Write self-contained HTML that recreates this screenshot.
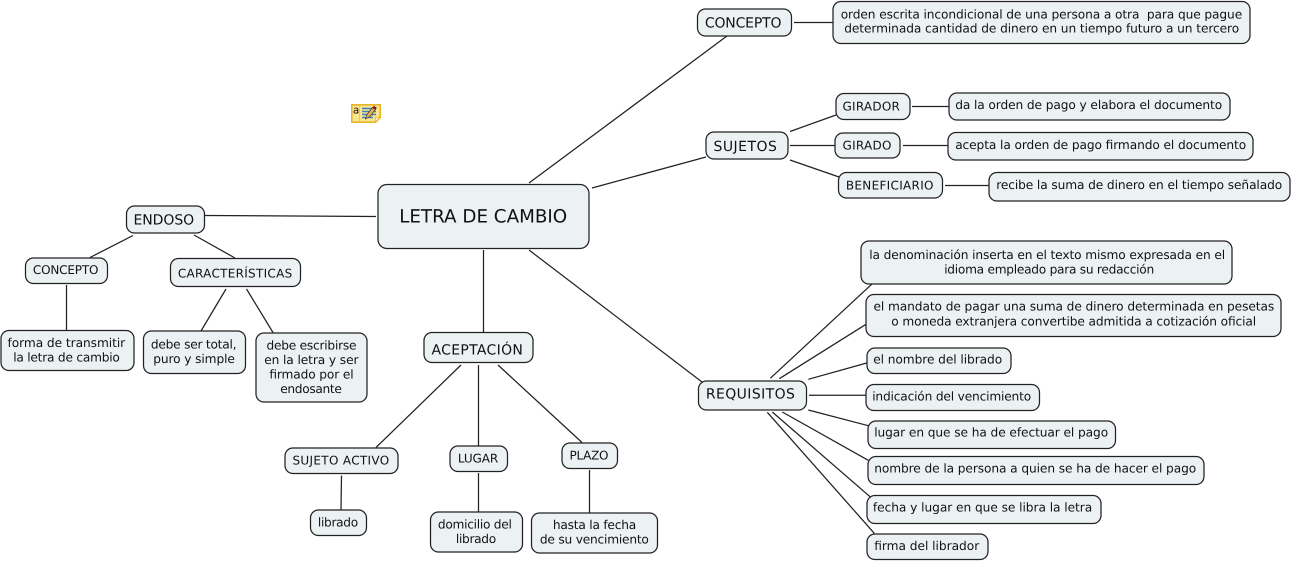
<!DOCTYPE html>
<html><head><meta charset="utf-8"><style>
html,body{margin:0;padding:0;background:#fff;width:1292px;height:561px;overflow:hidden}
svg{display:block}
rect.b{fill:#ecf2f4;stroke:#222;stroke-width:1.25}
line{stroke:#222;stroke-width:1.25}
text{font-family:"DejaVu Sans","Liberation Sans",sans-serif;fill:#111;font-size:12.2px;text-rendering:geometricPrecision}
text.m{font-size:14px}
text.s{font-size:12px}
text.c{font-size:18.3px}
</style></head><body>
<svg width="1292" height="561" viewBox="0 0 1292 561" xmlns="http://www.w3.org/2000/svg">
<!-- connectors -->
<line x1="529" y1="183" x2="727" y2="36"/>
<line x1="592" y1="188" x2="706" y2="157"/>
<line x1="205" y1="215.5" x2="376" y2="216.5"/>
<line x1="483.5" y1="250" x2="483.5" y2="332"/>
<line x1="529" y1="250" x2="702" y2="382"/>
<line x1="794" y1="22.5" x2="833" y2="22.5"/>
<line x1="790" y1="131.5" x2="836" y2="115"/>
<line x1="790" y1="145.5" x2="835" y2="145.5"/>
<line x1="790" y1="160" x2="839" y2="177"/>
<line x1="912" y1="106.5" x2="949" y2="106.5"/>
<line x1="903" y1="145.5" x2="948" y2="145.5"/>
<line x1="945" y1="185.5" x2="989" y2="185.5"/>
<line x1="133" y1="235.5" x2="90" y2="257.5"/>
<line x1="194" y1="235" x2="235" y2="258"/>
<line x1="66.5" y1="285" x2="66.5" y2="330"/>
<line x1="226" y1="289" x2="201" y2="331"/>
<line x1="246.5" y1="289" x2="273" y2="332.5"/>
<line x1="461" y1="365" x2="376" y2="447.5"/>
<line x1="478.5" y1="365" x2="478.5" y2="446"/>
<line x1="498" y1="365" x2="582" y2="442.5"/>
<line x1="341.5" y1="475.5" x2="341" y2="509.5"/>
<line x1="478.5" y1="473" x2="478.5" y2="511.5"/>
<line x1="589.5" y1="470" x2="589.5" y2="512.5"/>
<line x1="770.3" y1="378.3" x2="872.3" y2="283.7"/>
<line x1="779.3" y1="378.7" x2="866" y2="324.3"/>
<line x1="808.3" y1="379.3" x2="866.7" y2="363"/>
<line x1="809" y1="395.3" x2="865.7" y2="395.3"/>
<line x1="808.3" y1="410" x2="868.3" y2="425.7"/>
<line x1="782.3" y1="412" x2="868.3" y2="460.3"/>
<line x1="772.3" y1="412" x2="870" y2="496.7"/>
<line x1="767.3" y1="412.3" x2="874.3" y2="533.3"/>
<!-- boxes -->
<rect class="b" x="378" y="184.5" width="211" height="64" rx="9"/>
<rect class="b" x="424" y="332.5" width="109" height="30" rx="8"/>
<rect class="b" x="697.5" y="9" width="94" height="27" rx="8"/>
<rect class="b" x="833" y="1.5" width="417" height="42" rx="8"/>
<rect class="b" x="706" y="132" width="82" height="27" rx="8"/>
<rect class="b" x="836" y="93.5" width="74" height="26" rx="8"/>
<rect class="b" x="835" y="133" width="65" height="25" rx="8"/>
<rect class="b" x="838.5" y="172.5" width="104" height="25.5" rx="8"/>
<rect class="b" x="949" y="93" width="281" height="27" rx="8"/>
<rect class="b" x="948" y="132.5" width="305" height="27.5" rx="8"/>
<rect class="b" x="989" y="172.5" width="301" height="28.5" rx="8"/>
<rect class="b" x="126.5" y="206" width="78" height="27" rx="8"/>
<rect class="b" x="25.5" y="258" width="82" height="25.5" rx="8"/>
<rect class="b" x="170.5" y="258.5" width="130" height="28" rx="8"/>
<rect class="b" x="1" y="330.5" width="133" height="40" rx="8"/>
<rect class="b" x="143.5" y="331" width="102" height="42.5" rx="8"/>
<rect class="b" x="256" y="333" width="111" height="69" rx="8"/>
<rect class="b" x="285" y="448" width="113" height="25.5" rx="8"/>
<rect class="b" x="450" y="446" width="57.5" height="25.5" rx="8"/>
<rect class="b" x="562" y="443" width="55.5" height="25.5" rx="8"/>
<rect class="b" x="310.5" y="510" width="56" height="25.5" rx="8"/>
<rect class="b" x="430.5" y="512" width="92" height="40" rx="8"/>
<rect class="b" x="531.5" y="513" width="126" height="40" rx="8"/>
<rect class="b" x="698.5" y="381" width="108" height="29" rx="8"/>
<rect class="b" x="861" y="241" width="371" height="43" rx="8"/>
<rect class="b" x="866" y="294.5" width="415" height="42" rx="8"/>
<rect class="b" x="867" y="348" width="144" height="25.5" rx="8"/>
<rect class="b" x="866" y="384.5" width="173.5" height="26" rx="8"/>
<rect class="b" x="868" y="421" width="247.5" height="27.5" rx="8"/>
<rect class="b" x="868" y="456.5" width="336" height="28" rx="8"/>
<rect class="b" x="867" y="495.5" width="234" height="28" rx="8"/>
<rect class="b" x="867" y="534" width="121" height="25.5" rx="8"/>
<!-- labels -->
<g transform="translate(-0.8,0)">
<text class="c" x="400" y="222.3" textLength="168">LETRA DE CAMBIO</text>
<text class="m" x="432.3" y="354.3" textLength="91.4">ACEPTACIÓN</text>
<text class="m" x="705.7" y="27.7" textLength="76.6">CONCEPTO</text>
<text class="m" x="714.3" y="151" textLength="63.4">SUJETOS</text>
<text class="m" x="134.3" y="224.3" textLength="60.7">ENDOSO</text>
<text class="m" x="706.7" y="398.3" textLength="89">REQUISITOS</text>
<text class="s" x="843.3" y="110.3" textLength="57.4">GIRADOR</text>
<text class="s" x="843.3" y="149.3" textLength="49">GIRADO</text>
<text class="s" x="846.7" y="189.3" textLength="87.6">BENEFICIARIO</text>
<text class="s" x="33.7" y="274" textLength="65.6">CONCEPTO</text>
<text class="s" x="178.7" y="277.7" textLength="114.3">CARACTERÍSTICAS</text>
<text class="s" x="293.3" y="464.3" textLength="96.7">SUJETO ACTIVO</text>
<text class="s" x="458.7" y="462.3" textLength="40.3">LUGAR</text>
<text class="s" x="570.3" y="459.3" textLength="39">PLAZO</text>
<text x="841.5" y="18.3" textLength="401.5" xml:space="preserve">orden escrita incondicional de una persona a otra  para que pague</text>
<text x="845" y="32.7" textLength="395">determinada cantidad de dinero en un tiempo futuro a un tercero</text>
<text x="956" y="109" textLength="267">da la orden de pago y elabora el documento</text>
<text x="956" y="149" textLength="291">acepta la orden de pago firmando el documento</text>
<text x="997" y="189" textLength="286">recibe la suma de dinero en el tiempo señalado</text>
<text x="8.3" y="347" textLength="117.7">forma de transmitir</text>
<text x="14" y="361.7" textLength="106.7">la letra de cambio</text>
<text x="151.7" y="348.3" textLength="85.6">debe ser total,</text>
<text x="154" y="363" textLength="81.7">puro y simple</text>
<text x="267.3" y="349.7" textLength="90">debe escribirse</text>
<text x="265" y="364" textLength="94.3">en la letra y ser</text>
<text x="270" y="378.7" textLength="84.3">firmado por el</text>
<text x="281" y="393" textLength="61.7">endosante</text>
<text x="318.7" y="526.3" textLength="40.3">librado</text>
<text x="438.7" y="528.3" textLength="74">domicilio del</text>
<text x="456.7" y="543" textLength="40.3">librado</text>
<text x="553.7" y="529" textLength="83.3">hasta la fecha</text>
<text x="540.7" y="543.7" textLength="109">de su vencimiento</text>
<text x="870" y="259" textLength="356">la denominación inserta en el texto mismo expresada en el</text>
<text x="945" y="273.3" textLength="210">idioma empleado para su redacción</text>
<text x="874.3" y="310.7" textLength="400.7">el mandato de pagar una suma de dinero determinada en pesetas</text>
<text x="892" y="325.3" textLength="365">o moneda extranjera convertibe admitida a cotización oficial</text>
<text x="874" y="363.7" textLength="129">el nombre del librado</text>
<text x="873" y="400.7" textLength="159">indicación del vencimiento</text>
<text x="875" y="436.7" textLength="234">lugar en que se ha de efectuar el pago</text>
<text x="875" y="472.3" textLength="322">nombre de la persona a quien se ha de hacer el pago</text>
<text x="873.7" y="511.7" textLength="219.3">fecha y lugar en que se libra la letra</text>
<text x="875" y="550" textLength="105">firma del librador</text>
</g>
<!-- note icon -->
<path d="M351.8 104.8H380.2V117.5L375.5 122.2H351.8Z" fill="#fde68a" stroke="#e5b52e" stroke-width="1.6"/>
<path d="M375.5 122V117.5H380Z" fill="#fff6c4" stroke="#e5b52e" stroke-width=".8"/>
<line x1="359.5" y1="105.5" x2="359.5" y2="121" style="stroke:#eec95a;stroke-width:1"/>
<text x="352.9" y="113.6" style="font-size:10.5px">a</text>
<path d="M362 108.5h14M362 111.5h14M362 114.5h14M362 117.5h11" fill="none" style="stroke:#3f7fc0;stroke-width:1.4"/>
<path d="M365.5 119L367 114.5L372.5 107.5L375.5 109.5L370 116.5Z" fill="#e9b04e" stroke="#333" stroke-width=".7"/>
<path d="M372.3 108L373.8 105.7L376.8 107.7L375.4 110Z" fill="#7c1a2a"/>
</svg>
</body></html>
